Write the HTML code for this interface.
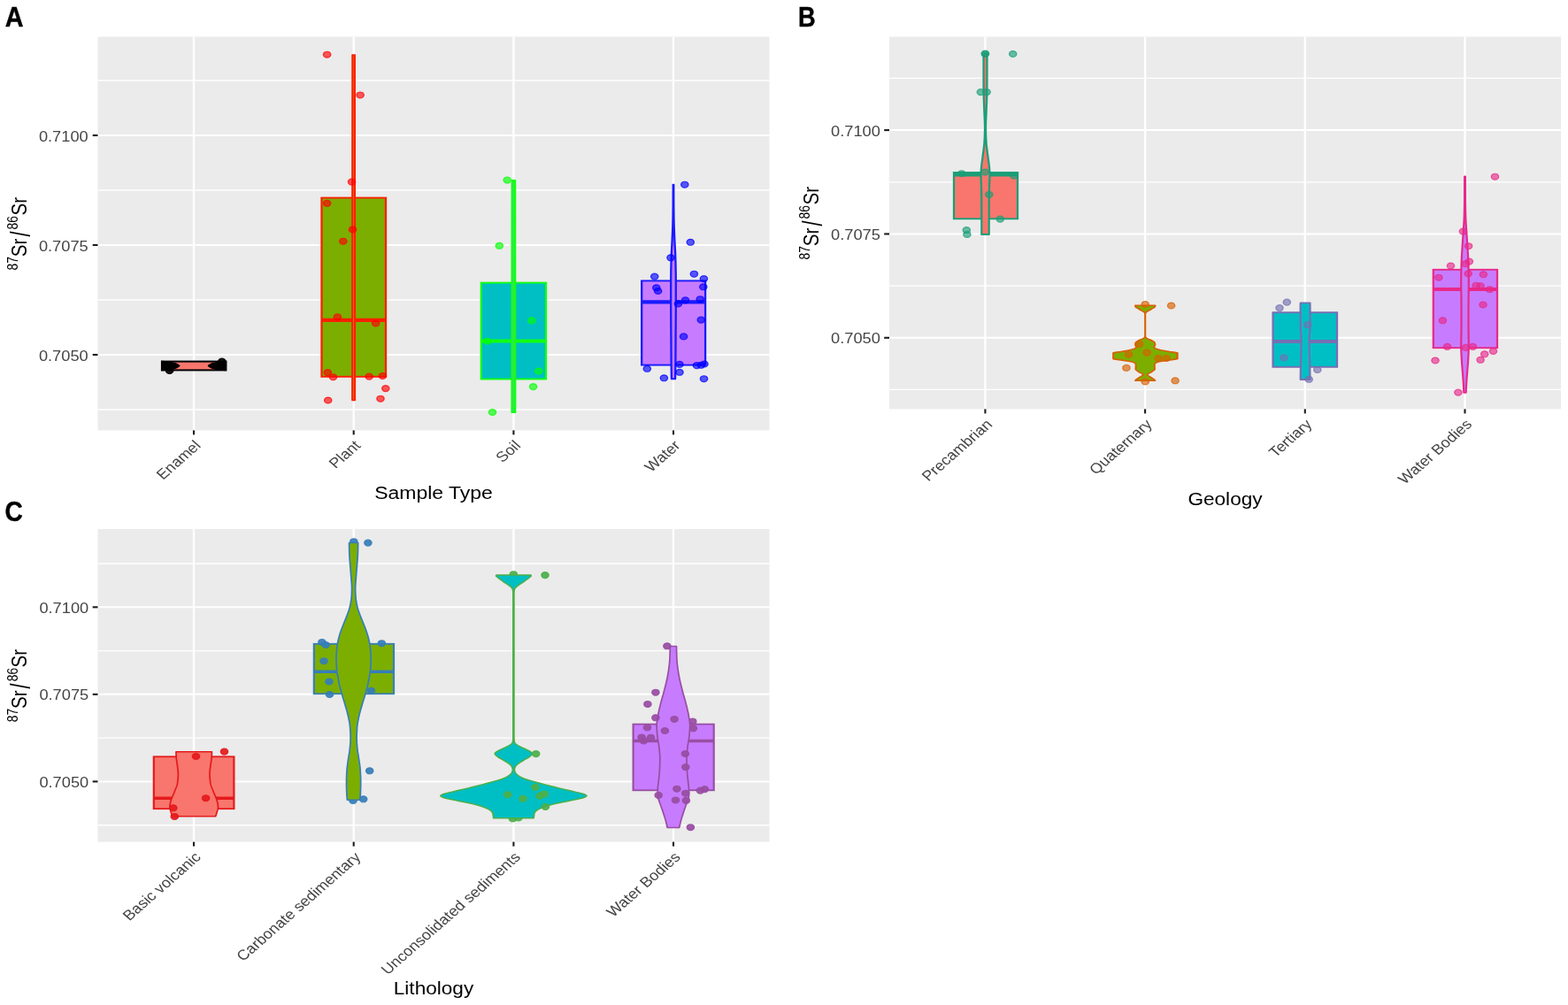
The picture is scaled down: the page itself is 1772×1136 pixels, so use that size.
<!DOCTYPE html>
<html lang="en"><head><meta charset="utf-8"><title>87Sr/86Sr by sample type, geology and lithology</title>
<style>html,body{margin:0;padding:0;background:#fff}body{width:1772px;height:1136px;overflow:hidden}svg{display:block;font-family:'Liberation Sans', sans-serif}</style></head><body>
<svg width="1772" height="1136" viewBox="0 0 1772 1136" role="img" aria-label="Violin and box plots of 87Sr/86Sr by sample type, geology and lithology">
<rect width="1772" height="1136" fill="#fff"/>
<g id="panelA">
<rect x="110.5" y="41.5" width="759" height="444.9" fill="#ebebeb"/>
<g stroke="#fff" stroke-width="1.35">
<line x1="110.5" x2="869.5" y1="91" y2="91"/>
<line x1="110.5" x2="869.5" y1="215" y2="215"/>
<line x1="110.5" x2="869.5" y1="339" y2="339"/>
<line x1="110.5" x2="869.5" y1="463" y2="463"/>
</g>
<g stroke="#fff" stroke-width="2">
<line x1="110.5" x2="869.5" y1="153" y2="153"/>
<line x1="110.5" x2="869.5" y1="277" y2="277"/>
<line x1="110.5" x2="869.5" y1="401" y2="401"/>
</g>
<g stroke="#fff" stroke-width="2.3">
<line x1="219" x2="219" y1="41.5" y2="486.4"/>
<line x1="399.7" x2="399.7" y1="41.5" y2="486.4"/>
<line x1="580.4" x2="580.4" y1="41.5" y2="486.4"/>
<line x1="761" x2="761" y1="41.5" y2="486.4"/>
</g>
<g stroke="#1c1c1c" stroke-width="2.1">
<line x1="104.7" x2="110.5" y1="153" y2="153"/>
<line x1="104.7" x2="110.5" y1="277" y2="277"/>
<line x1="104.7" x2="110.5" y1="401" y2="401"/>
<line x1="219" x2="219" y1="486.4" y2="491.4"/>
<line x1="399.7" x2="399.7" y1="486.4" y2="491.4"/>
<line x1="580.4" x2="580.4" y1="486.4" y2="491.4"/>
<line x1="761" x2="761" y1="486.4" y2="491.4"/>
</g>
<g font-size="15.6" fill="#454545" text-anchor="end">
<text transform="translate(99.7 159.6) scale(1.17 1)">0.7100</text>
<text transform="translate(99.7 283.6) scale(1.17 1)">0.7075</text>
<text transform="translate(99.7 407.6) scale(1.17 1)">0.7050</text>
</g>
<g font-size="16.0" fill="#454545" text-anchor="end">
<text transform="translate(227.9 504.6) scale(1.14 1) rotate(-45)">Enamel</text>
<text transform="translate(408.6 504.6) scale(1.14 1) rotate(-45)">Plant</text>
<text transform="translate(589.3 504.6) scale(1.14 1) rotate(-45)">Soil</text>
<text transform="translate(769.9 504.6) scale(1.14 1) rotate(-45)">Water</text>
</g>
<text font-size="19.4" text-anchor="middle" transform="translate(490 563.6) scale(1.185 1)">Sample Type</text>
<g id="ytitle-A">
<text font-size="13.9" transform="translate(19.6 305.4) scale(1.23 1) rotate(-90)">87</text>
<text font-size="20.6" transform="translate(30.4 290.2) scale(1.18 1) rotate(-90)">Sr</text>
<text font-size="21.5" transform="translate(34.2 267.6) scale(1.5 1) rotate(-90)">/</text>
<text font-size="13.9" transform="translate(19.6 259.5) scale(1.23 1) rotate(-90)">86</text>
<text font-size="20.6" transform="translate(30.4 243.6) scale(1.18 1) rotate(-90)">Sr</text>
</g>
<text font-size="30.6" font-weight="bold" stroke="#000" stroke-width="0.4" transform="translate(5.7 30) scale(0.94 1)">A</text>
<g transform="scale(1.2 1)">
<rect x="152.58" y="408.6" width="60" height="9.8" fill="#f8766d" stroke="#000" stroke-width="2.0"/>
<path d="M151.67 407.8 L155.83 408 C163.44 408.8 168.28 411 169.67 413.5 C168.28 416 163.44 418.2 155.83 419 L151.67 419.2 Z M213.5 407.8 L209.33 408 C201.72 408.8 196.88 411 195.5 413.5 C196.88 416 201.72 418.2 209.33 419 L213.5 419.2 Z" fill="#000"/>
<g fill="#000" fill-opacity="0.92" stroke="#000" stroke-opacity="0.9" stroke-width="1.15"><circle cx="159.67" cy="419" r="3.45"/><circle cx="209" cy="408.6" r="3.45"/></g>
<rect x="302.92" y="223.6" width="60.42" height="202.2" fill="#7cae00" stroke="#fa2000" stroke-width="1.9"/>
<line x1="302.92" x2="363.33" y1="361.8" y2="361.8" stroke="#fa2000" stroke-width="4.2"/>
<path d="M334.08 62 L334.15 192.1 L334.19 322.2 L334.21 452.3 L331.79 452.3 L331.81 322.2 L331.85 192.1 L331.92 62 Z" fill="#e07a1c" stroke="#fa2000" stroke-width="1.75" stroke-linejoin="round"/>
<g fill="#ff0000" fill-opacity="0.64" stroke="#ff0000" stroke-opacity="0.72" stroke-width="1.15"><circle cx="308" cy="61.7" r="3.45"/><circle cx="339.25" cy="107.4" r="3.45"/><circle cx="331.25" cy="205.6" r="3.45"/><circle cx="308" cy="229.8" r="3.45"/><circle cx="332.08" cy="259.5" r="3.45"/><circle cx="323.17" cy="272.7" r="3.45"/><circle cx="317.83" cy="358.4" r="3.45"/><circle cx="353.83" cy="365.5" r="3.45"/><circle cx="308.58" cy="421.1" r="3.45"/><circle cx="313.75" cy="426.2" r="3.45"/><circle cx="347.67" cy="425.6" r="3.45"/><circle cx="360.25" cy="425" r="3.45"/><circle cx="363.17" cy="439.1" r="3.45"/><circle cx="358.33" cy="450.7" r="3.45"/><circle cx="308.92" cy="452.5" r="3.45"/></g>
<rect x="453.17" y="319.6" width="61" height="108.9" fill="#00bfc4" stroke="#12ff12" stroke-width="1.9"/>
<line x1="453.17" x2="514.17" y1="385.5" y2="385.5" stroke="#12ff12" stroke-width="4.2"/>
<path d="M485.12 204 L485.19 291.4 L485.23 378.8 L485.25 466.2 L482.08 466.2 L482.1 378.8 L482.14 291.4 L482.21 204 Z" fill="#3be060" stroke="#12ff12" stroke-width="1.8" stroke-linejoin="round"/>
<g fill="#00ff00" fill-opacity="0.64" stroke="#00ff00" stroke-opacity="0.72" stroke-width="1.15"><circle cx="477.67" cy="203.6" r="3.45"/><circle cx="470.25" cy="277.8" r="3.45"/><circle cx="500.75" cy="362.4" r="3.45"/><circle cx="458.92" cy="385.7" r="3.45"/><circle cx="507.33" cy="419.5" r="3.45"/><circle cx="502.17" cy="437.1" r="3.45"/><circle cx="463.75" cy="466" r="3.45"/></g>
<rect x="604.33" y="317.4" width="59.92" height="95.2" fill="#c77cff" stroke="#1a1aff" stroke-width="1.9"/>
<line x1="604.33" x2="664.25" y1="341.4" y2="341.4" stroke="#1a1aff" stroke-width="4.2"/>
<path d="M634.42 208.8 L634.42 212.52 L634.42 216.24 L634.43 219.96 L634.44 223.67 L634.45 227.39 L634.46 231.11 L634.48 234.83 L634.52 238.55 L634.56 242.27 L634.61 245.99 L634.66 249.71 L634.73 253.42 L634.83 257.14 L634.94 260.86 L635.06 264.58 L635.19 268.3 L635.33 272.02 L635.49 275.74 L635.67 279.45 L635.84 283.17 L635.99 286.89 L636.1 290.61 L636.18 294.33 L636.26 298.05 L636.34 301.77 L636.4 305.48 L636.45 309.2 L636.49 312.92 L636.5 316.64 L636.5 320.36 L636.5 324.08 L636.5 327.8 L636.5 331.52 L636.5 335.23 L636.5 338.95 L636.5 342.67 L636.5 346.39 L636.49 350.11 L636.48 353.83 L636.47 357.55 L636.45 361.26 L636.42 364.98 L636.4 368.7 L636.38 372.42 L636.35 376.14 L636.33 379.86 L636.32 383.58 L636.3 387.29 L636.28 391.01 L636.26 394.73 L636.24 398.45 L636.22 402.17 L636.2 405.89 L636.17 409.61 L636.13 413.33 L636.09 417.04 L636.04 420.76 L635.98 424.48 L635.92 428.2 L632.42 428.2 L632.35 424.48 L632.3 420.76 L632.24 417.04 L632.2 413.33 L632.16 409.61 L632.14 405.89 L632.11 402.17 L632.09 398.45 L632.07 394.73 L632.05 391.01 L632.04 387.29 L632.02 383.58 L632 379.86 L631.98 376.14 L631.96 372.42 L631.93 368.7 L631.91 364.98 L631.89 361.26 L631.87 357.55 L631.85 353.83 L631.84 350.11 L631.83 346.39 L631.83 342.67 L631.83 338.95 L631.83 335.23 L631.83 331.52 L631.83 327.8 L631.83 324.08 L631.83 320.36 L631.83 316.64 L631.85 312.92 L631.88 309.2 L631.93 305.48 L632 301.77 L632.07 298.05 L632.15 294.33 L632.24 290.61 L632.34 286.89 L632.49 283.17 L632.66 279.45 L632.84 275.74 L633.01 272.02 L633.14 268.3 L633.27 264.58 L633.4 260.86 L633.51 257.14 L633.6 253.42 L633.67 249.71 L633.73 245.99 L633.77 242.27 L633.82 238.55 L633.85 234.83 L633.87 231.11 L633.88 227.39 L633.89 223.67 L633.9 219.96 L633.91 216.24 L633.92 212.52 L633.92 208.8 Z" fill="#c77cff" stroke="#1a1aff" stroke-width="1.9" stroke-linejoin="round"/>
<g fill="#0000ff" fill-opacity="0.64" stroke="#0000ff" stroke-opacity="0.72" stroke-width="1.15"><circle cx="644.83" cy="208.7" r="3.45"/><circle cx="650.25" cy="273.8" r="3.45"/><circle cx="631.67" cy="291.3" r="3.45"/><circle cx="653.67" cy="309.7" r="3.45"/><circle cx="616.42" cy="312.6" r="3.45"/><circle cx="662.83" cy="315.1" r="3.45"/><circle cx="662.33" cy="324.3" r="3.45"/><circle cx="618.17" cy="325.3" r="3.45"/><circle cx="619.67" cy="329" r="3.45"/><circle cx="645.42" cy="339.4" r="3.45"/><circle cx="659.42" cy="338.2" r="3.45"/><circle cx="638.67" cy="343.4" r="3.45"/><circle cx="660.25" cy="361.6" r="3.45"/><circle cx="643.83" cy="380.4" r="3.45"/><circle cx="640" cy="411.9" r="3.45"/><circle cx="656.17" cy="413.1" r="3.45"/><circle cx="660.25" cy="412.8" r="3.45"/><circle cx="663.33" cy="411.5" r="3.45"/><circle cx="609.42" cy="416.8" r="3.45"/><circle cx="640" cy="420.8" r="3.45"/><circle cx="625.33" cy="427.3" r="3.45"/><circle cx="662.92" cy="428.2" r="3.45"/></g>
</g>
</g>
<g id="panelB">
<rect x="1005" y="41.5" width="759" height="420.9" fill="#ebebeb"/>
<g stroke="#fff" stroke-width="1.35">
<line x1="1005" x2="1764" y1="88.4" y2="88.4"/>
<line x1="1005" x2="1764" y1="205.8" y2="205.8"/>
<line x1="1005" x2="1764" y1="323.1" y2="323.1"/>
<line x1="1005" x2="1764" y1="440.4" y2="440.4"/>
</g>
<g stroke="#fff" stroke-width="2">
<line x1="1005" x2="1764" y1="147.1" y2="147.1"/>
<line x1="1005" x2="1764" y1="264.45" y2="264.45"/>
<line x1="1005" x2="1764" y1="381.8" y2="381.8"/>
</g>
<g stroke="#fff" stroke-width="2.3">
<line x1="1113.4" x2="1113.4" y1="41.5" y2="462.4"/>
<line x1="1294.1" x2="1294.1" y1="41.5" y2="462.4"/>
<line x1="1474.8" x2="1474.8" y1="41.5" y2="462.4"/>
<line x1="1655.5" x2="1655.5" y1="41.5" y2="462.4"/>
</g>
<g stroke="#1c1c1c" stroke-width="2.1">
<line x1="999.2" x2="1005" y1="147.1" y2="147.1"/>
<line x1="999.2" x2="1005" y1="264.45" y2="264.45"/>
<line x1="999.2" x2="1005" y1="381.8" y2="381.8"/>
<line x1="1113.4" x2="1113.4" y1="462.4" y2="467.4"/>
<line x1="1294.1" x2="1294.1" y1="462.4" y2="467.4"/>
<line x1="1474.8" x2="1474.8" y1="462.4" y2="467.4"/>
<line x1="1655.5" x2="1655.5" y1="462.4" y2="467.4"/>
</g>
<g font-size="15.6" fill="#454545" text-anchor="end">
<text transform="translate(994.9 153.7) scale(1.17 1)">0.7100</text>
<text transform="translate(994.9 271.05) scale(1.17 1)">0.7075</text>
<text transform="translate(994.9 388.4) scale(1.17 1)">0.7050</text>
</g>
<g font-size="16.0" fill="#454545" text-anchor="end">
<text transform="translate(1122.3 480.6) scale(1.14 1) rotate(-45)">Precambrian</text>
<text transform="translate(1303 480.6) scale(1.14 1) rotate(-45)">Quaternary</text>
<text transform="translate(1483.7 480.6) scale(1.14 1) rotate(-45)">Tertiary</text>
<text transform="translate(1664.4 480.6) scale(1.14 1) rotate(-45)">Water Bodies</text>
</g>
<text font-size="19.4" text-anchor="middle" transform="translate(1384.5 571) scale(1.165 1)">Geology</text>
<g id="ytitle-B">
<text font-size="13.9" transform="translate(914.6 293.4) scale(1.23 1) rotate(-90)">87</text>
<text font-size="20.6" transform="translate(925.4 278.2) scale(1.18 1) rotate(-90)">Sr</text>
<text font-size="21.5" transform="translate(929.2 255.6) scale(1.5 1) rotate(-90)">/</text>
<text font-size="13.9" transform="translate(914.6 247.5) scale(1.23 1) rotate(-90)">86</text>
<text font-size="20.6" transform="translate(925.4 231.6) scale(1.18 1) rotate(-90)">Sr</text>
</g>
<text font-size="30.6" font-weight="bold" stroke="#000" stroke-width="0.4" transform="translate(902 30) scale(0.89 1)">B</text>
<g transform="scale(1.2 1)">
<rect x="898.33" y="195" width="60" height="52.3" fill="#f8766d" stroke="#1b9e77" stroke-width="1.9"/>
<line x1="898.33" x2="958.33" y1="197.2" y2="197.2" stroke="#1b9e77" stroke-width="4.6"/>
<path d="M929.58 60.5 L929.58 63.97 L929.58 67.43 L929.58 70.9 L929.58 74.36 L929.58 77.83 L929.58 81.3 L929.58 84.76 L929.57 88.23 L929.56 91.69 L929.55 95.16 L929.53 98.63 L929.51 102.09 L929.49 105.56 L929.42 109.03 L929.33 112.49 L929.22 115.96 L929.1 119.42 L928.98 122.89 L928.88 126.36 L928.75 129.82 L928.62 133.29 L928.49 136.75 L928.39 140.22 L928.34 143.69 L928.35 147.15 L928.41 150.62 L928.51 154.08 L928.65 157.55 L928.8 161.02 L929.05 164.48 L929.4 167.95 L929.78 171.42 L930.15 174.88 L930.53 178.35 L930.95 181.81 L931.34 185.28 L931.66 188.75 L931.89 192.21 L932.06 195.68 L932.07 199.14 L931.98 202.61 L931.86 206.08 L931.73 209.54 L931.62 213.01 L931.56 216.47 L931.52 219.94 L931.48 223.41 L931.45 226.87 L931.43 230.34 L931.42 233.81 L931.42 237.27 L931.42 240.74 L931.42 244.2 L931.42 247.67 L931.42 251.14 L931.42 254.6 L931.42 258.07 L931.42 261.53 L931.42 265 L924.42 265 L924.42 261.53 L924.42 258.07 L924.42 254.6 L924.42 251.14 L924.42 247.67 L924.42 244.2 L924.42 240.74 L924.42 237.27 L924.42 233.81 L924.4 230.34 L924.38 226.87 L924.35 223.41 L924.31 219.94 L924.27 216.47 L924.21 213.01 L924.11 209.54 L923.97 206.08 L923.85 202.61 L923.77 199.14 L923.77 195.68 L923.94 192.21 L924.17 188.75 L924.49 185.28 L924.89 181.81 L925.3 178.35 L925.68 174.88 L926.05 171.42 L926.43 167.95 L926.78 164.48 L927.03 161.02 L927.19 157.55 L927.32 154.08 L927.42 150.62 L927.49 147.15 L927.5 143.69 L927.44 140.22 L927.34 136.75 L927.22 133.29 L927.08 129.82 L926.96 126.36 L926.85 122.89 L926.74 119.42 L926.62 115.96 L926.5 112.49 L926.41 109.03 L926.35 105.56 L926.32 102.09 L926.3 98.63 L926.29 95.16 L926.27 91.69 L926.26 88.23 L926.25 84.76 L926.25 81.3 L926.25 77.83 L926.25 74.36 L926.25 70.9 L926.25 67.43 L926.25 63.97 L926.25 60.5 Z" fill="#f8766d" stroke="#1b9e77" stroke-width="1.85" stroke-linejoin="round"/>
<g fill="#1b9e77" fill-opacity="0.64" stroke="#1b9e77" stroke-opacity="0.72" stroke-width="1.15"><circle cx="927.92" cy="60.6" r="3.45"/><circle cx="927.75" cy="61" r="3.45"/><circle cx="953.92" cy="61" r="3.45"/><circle cx="923.58" cy="104.1" r="3.45"/><circle cx="929.25" cy="104.1" r="3.45"/><circle cx="905.67" cy="196.2" r="3.45"/><circle cx="927.67" cy="194.6" r="3.45"/><circle cx="954.92" cy="198.7" r="3.45"/><circle cx="931.5" cy="219.9" r="3.45"/><circle cx="941.92" cy="247.6" r="3.45"/><circle cx="910.25" cy="260.1" r="3.45"/><circle cx="910.75" cy="265" r="3.45"/></g>
<rect x="1048.67" y="399" width="60.17" height="6.4" fill="#7cae00" stroke="#d95f02" stroke-width="1.6"/>
<line x1="1048.67" x2="1108.83" y1="402" y2="402" stroke="#d95f02" stroke-width="2.6"/>
<path d="M1087.92 345.2 L1087.87 345.73 L1087.75 346.27 L1087.58 346.8 L1087.2 347.34 L1086.52 347.87 L1085.71 348.41 L1084.91 348.94 L1084.16 349.48 L1083.37 350.01 L1082.57 350.55 L1081.8 351.08 L1081.06 351.62 L1080.29 352.15 L1079.59 352.68 L1079.13 353.22 L1078.88 353.75 L1078.69 354.29 L1078.59 354.82 L1078.58 355.36 L1078.58 355.89 L1078.58 356.43 L1078.58 356.96 L1078.58 357.5 L1078.58 358.03 L1078.58 358.56 L1078.58 359.1 L1078.58 359.63 L1078.58 360.17 L1078.58 360.7 L1078.58 361.24 L1078.58 361.77 L1078.58 362.31 L1078.58 362.84 L1078.58 363.38 L1078.58 363.91 L1078.58 364.45 L1078.58 364.98 L1078.58 365.51 L1078.58 366.05 L1078.58 366.58 L1078.58 367.12 L1078.58 367.65 L1078.58 368.19 L1078.58 368.72 L1078.58 369.26 L1078.58 369.79 L1078.58 370.33 L1078.58 370.86 L1078.58 371.39 L1078.58 371.93 L1078.58 372.46 L1078.58 373 L1078.58 373.53 L1078.58 374.07 L1078.58 374.6 L1078.58 375.14 L1078.58 375.67 L1078.58 376.21 L1078.58 376.74 L1078.58 377.28 L1078.58 377.81 L1078.58 378.34 L1078.58 378.88 L1078.58 379.41 L1078.58 379.95 L1078.58 380.48 L1078.76 381.02 L1079.22 381.55 L1079.83 382.09 L1080.49 382.62 L1081.38 383.16 L1082.44 383.69 L1083.47 384.23 L1084.3 384.76 L1085.12 385.29 L1085.93 385.83 L1086.63 386.36 L1087.18 386.9 L1087.48 387.43 L1087.6 387.97 L1087.7 388.5 L1087.78 389.04 L1087.82 389.57 L1087.83 390.11 L1087.59 390.64 L1087.2 391.17 L1086.89 391.71 L1086.87 392.24 L1087.16 392.78 L1087.64 393.31 L1088.31 393.85 L1089.44 394.38 L1090.9 394.92 L1092.52 395.45 L1094.35 395.99 L1096.55 396.52 L1098.95 397.06 L1101.44 397.59 L1104.79 398.12 L1107.79 398.66 L1108.5 399.19 L1108.5 399.73 L1108.5 400.26 L1108.5 400.8 L1108.5 401.33 L1108.5 401.87 L1108.5 402.4 L1108.5 402.94 L1108.5 403.47 L1108.5 404.01 L1108.5 404.54 L1108.5 405.07 L1108.29 405.61 L1106.26 406.14 L1103.1 406.68 L1100.11 407.21 L1097.29 407.75 L1094.3 408.28 L1091.69 408.82 L1090.06 409.35 L1089.03 409.89 L1088.16 410.42 L1087.56 410.95 L1087.33 411.49 L1087.33 412.02 L1087.33 412.56 L1087.33 413.09 L1087.33 413.63 L1087.33 414.16 L1087.36 414.7 L1087.39 415.23 L1087.44 415.77 L1087.48 416.3 L1087.5 416.84 L1087.44 417.37 L1087.16 417.9 L1086.71 418.44 L1086.13 418.97 L1085.49 419.51 L1084.85 420.04 L1084.25 420.58 L1083.51 421.11 L1082.62 421.65 L1081.73 422.18 L1080.99 422.72 L1080.55 423.25 L1080.56 423.78 L1080.94 424.32 L1081.56 424.85 L1082.29 425.39 L1082.99 425.92 L1083.66 426.46 L1084.41 426.99 L1085.18 427.53 L1085.91 428.06 L1086.52 428.6 L1087.04 429.13 L1087.51 429.67 L1087.92 430.2 L1069.08 430.2 L1069.49 429.67 L1069.96 429.13 L1070.48 428.6 L1071.09 428.06 L1071.82 427.53 L1072.59 426.99 L1073.34 426.46 L1074.01 425.92 L1074.71 425.39 L1075.44 424.85 L1076.06 424.32 L1076.44 423.78 L1076.45 423.25 L1076.01 422.72 L1075.27 422.18 L1074.38 421.65 L1073.49 421.11 L1072.75 420.58 L1072.15 420.04 L1071.51 419.51 L1070.87 418.97 L1070.29 418.44 L1069.84 417.9 L1069.56 417.37 L1069.5 416.84 L1069.52 416.3 L1069.56 415.77 L1069.61 415.23 L1069.64 414.7 L1069.67 414.16 L1069.67 413.63 L1069.67 413.09 L1069.67 412.56 L1069.67 412.02 L1069.67 411.49 L1069.44 410.95 L1068.84 410.42 L1067.97 409.89 L1066.94 409.35 L1065.31 408.82 L1062.7 408.28 L1059.71 407.75 L1056.89 407.21 L1053.9 406.68 L1050.74 406.14 L1048.71 405.61 L1048.5 405.07 L1048.5 404.54 L1048.5 404.01 L1048.5 403.47 L1048.5 402.94 L1048.5 402.4 L1048.5 401.87 L1048.5 401.33 L1048.5 400.8 L1048.5 400.26 L1048.5 399.73 L1048.5 399.19 L1049.21 398.66 L1052.21 398.12 L1055.56 397.59 L1058.05 397.06 L1060.45 396.52 L1062.65 395.99 L1064.48 395.45 L1066.1 394.92 L1067.56 394.38 L1068.69 393.85 L1069.36 393.31 L1069.84 392.78 L1070.13 392.24 L1070.11 391.71 L1069.8 391.17 L1069.41 390.64 L1069.17 390.11 L1069.18 389.57 L1069.22 389.04 L1069.3 388.5 L1069.4 387.97 L1069.52 387.43 L1069.82 386.9 L1070.37 386.36 L1071.07 385.83 L1071.88 385.29 L1072.7 384.76 L1073.53 384.23 L1074.56 383.69 L1075.62 383.16 L1076.51 382.62 L1077.17 382.09 L1077.78 381.55 L1078.24 381.02 L1078.42 380.48 L1078.42 379.95 L1078.42 379.41 L1078.42 378.88 L1078.42 378.34 L1078.42 377.81 L1078.42 377.28 L1078.42 376.74 L1078.42 376.21 L1078.42 375.67 L1078.42 375.14 L1078.42 374.6 L1078.42 374.07 L1078.42 373.53 L1078.42 373 L1078.42 372.46 L1078.42 371.93 L1078.42 371.39 L1078.42 370.86 L1078.42 370.33 L1078.42 369.79 L1078.42 369.26 L1078.42 368.72 L1078.42 368.19 L1078.42 367.65 L1078.42 367.12 L1078.42 366.58 L1078.42 366.05 L1078.42 365.51 L1078.42 364.98 L1078.42 364.45 L1078.42 363.91 L1078.42 363.38 L1078.42 362.84 L1078.42 362.31 L1078.42 361.77 L1078.42 361.24 L1078.42 360.7 L1078.42 360.17 L1078.42 359.63 L1078.42 359.1 L1078.42 358.56 L1078.42 358.03 L1078.42 357.5 L1078.42 356.96 L1078.42 356.43 L1078.42 355.89 L1078.42 355.36 L1078.41 354.82 L1078.31 354.29 L1078.12 353.75 L1077.87 353.22 L1077.41 352.68 L1076.71 352.15 L1075.94 351.62 L1075.2 351.08 L1074.43 350.55 L1073.63 350.01 L1072.84 349.48 L1072.09 348.94 L1071.29 348.41 L1070.48 347.87 L1069.8 347.34 L1069.42 346.8 L1069.25 346.27 L1069.13 345.73 L1069.08 345.2 Z" fill="#7cae00" stroke="#d95f02" stroke-width="1.6" stroke-linejoin="round"/>
<g fill="#d95f02" fill-opacity="0.64" stroke="#d95f02" stroke-opacity="0.72" stroke-width="1.15"><circle cx="1103" cy="345.5" r="3.45"/><circle cx="1078.5" cy="344" r="3.45"/><circle cx="1072.92" cy="389" r="3.45"/><circle cx="1080.08" cy="398.6" r="3.45"/><circle cx="1062.92" cy="400.7" r="3.45"/><circle cx="1090.83" cy="405" r="3.45"/><circle cx="1098.58" cy="405" r="3.45"/><circle cx="1060.75" cy="415.9" r="3.45"/><circle cx="1106.75" cy="430.3" r="3.45"/><circle cx="1078.5" cy="431.5" r="3.45"/></g>
<rect x="1198.83" y="353.2" width="60.33" height="61.6" fill="#00bfc4" stroke="#7570b3" stroke-width="1.9"/>
<line x1="1198.83" x2="1259.17" y1="385.9" y2="385.9" stroke="#7570b3" stroke-width="4"/>
<path d="M1233.75 342.3 L1233.77 343.77 L1233.79 345.24 L1233.8 346.71 L1233.81 348.18 L1233.82 349.65 L1233.83 351.12 L1233.83 352.59 L1233.83 354.06 L1233.83 355.53 L1233.83 356.99 L1233.82 358.46 L1233.81 359.93 L1233.8 361.4 L1233.78 362.87 L1233.76 364.34 L1233.74 365.81 L1233.71 367.28 L1233.69 368.75 L1233.66 370.22 L1233.62 371.69 L1233.56 373.16 L1233.49 374.63 L1233.41 376.1 L1233.32 377.57 L1233.24 379.04 L1233.16 380.51 L1233.09 381.98 L1233.04 383.45 L1233.01 384.92 L1233 386.38 L1233.01 387.85 L1233.02 389.32 L1233.05 390.79 L1233.07 392.26 L1233.11 393.73 L1233.14 395.2 L1233.18 396.67 L1233.21 398.14 L1233.24 399.61 L1233.27 401.08 L1233.3 402.55 L1233.34 404.02 L1233.38 405.49 L1233.41 406.96 L1233.45 408.43 L1233.48 409.9 L1233.52 411.37 L1233.55 412.84 L1233.57 414.31 L1233.6 415.77 L1233.62 417.24 L1233.64 418.71 L1233.66 420.18 L1233.68 421.65 L1233.69 423.12 L1233.71 424.59 L1233.73 426.06 L1233.74 427.53 L1233.75 429 L1224.75 429 L1224.76 427.53 L1224.77 426.06 L1224.79 424.59 L1224.81 423.12 L1224.82 421.65 L1224.84 420.18 L1224.86 418.71 L1224.88 417.24 L1224.9 415.77 L1224.93 414.31 L1224.95 412.84 L1224.98 411.37 L1225.02 409.9 L1225.05 408.43 L1225.09 406.96 L1225.12 405.49 L1225.16 404.02 L1225.2 402.55 L1225.23 401.08 L1225.26 399.61 L1225.29 398.14 L1225.32 396.67 L1225.36 395.2 L1225.39 393.73 L1225.43 392.26 L1225.45 390.79 L1225.48 389.32 L1225.49 387.85 L1225.5 386.38 L1225.49 384.92 L1225.46 383.45 L1225.41 381.98 L1225.34 380.51 L1225.26 379.04 L1225.18 377.57 L1225.09 376.1 L1225.01 374.63 L1224.94 373.16 L1224.88 371.69 L1224.84 370.22 L1224.81 368.75 L1224.79 367.28 L1224.76 365.81 L1224.74 364.34 L1224.72 362.87 L1224.7 361.4 L1224.69 359.93 L1224.68 358.46 L1224.67 356.99 L1224.67 355.53 L1224.67 354.06 L1224.67 352.59 L1224.67 351.12 L1224.68 349.65 L1224.69 348.18 L1224.7 346.71 L1224.71 345.24 L1224.73 343.77 L1224.75 342.3 Z" fill="#00bfc4" stroke="#7570b3" stroke-width="1.8" stroke-linejoin="round"/>
<g fill="#7570b3" fill-opacity="0.64" stroke="#7570b3" stroke-opacity="0.72" stroke-width="1.15"><circle cx="1211.92" cy="341.6" r="3.45"/><circle cx="1205" cy="348.1" r="3.45"/><circle cx="1231.42" cy="367.1" r="3.45"/><circle cx="1209" cy="404.4" r="3.45"/><circle cx="1240.67" cy="418" r="3.45"/><circle cx="1232.67" cy="428.8" r="3.45"/></g>
<rect x="1349.83" y="304.8" width="60.17" height="88.4" fill="#c77cff" stroke="#e7298a" stroke-width="1.9"/>
<line x1="1349.83" x2="1410" y1="327" y2="327" stroke="#e7298a" stroke-width="4"/>
<path d="M1379.92 199.3 L1379.92 203.44 L1379.92 207.59 L1379.93 211.73 L1379.93 215.88 L1379.94 220.02 L1379.96 224.16 L1379.98 228.31 L1380.02 232.45 L1380.08 236.6 L1380.16 240.74 L1380.25 244.88 L1380.38 249.03 L1380.59 253.17 L1380.82 257.32 L1381.05 261.46 L1381.28 265.61 L1381.52 269.75 L1381.76 273.89 L1381.99 278.04 L1382.19 282.18 L1382.4 286.33 L1382.59 290.47 L1382.76 294.61 L1382.89 298.76 L1382.97 302.9 L1383.04 307.05 L1383.11 311.19 L1383.15 315.33 L1383.17 319.48 L1383.15 323.62 L1383.11 327.77 L1383.05 331.91 L1382.99 336.05 L1382.94 340.2 L1382.92 344.34 L1382.92 348.49 L1382.92 352.63 L1382.92 356.77 L1382.92 360.92 L1382.92 365.06 L1382.92 369.21 L1382.93 373.35 L1382.98 377.49 L1383.05 381.64 L1383.12 385.78 L1383.16 389.93 L1383.15 394.07 L1383.04 398.22 L1382.86 402.36 L1382.68 406.5 L1382.45 410.65 L1382.17 414.79 L1381.9 418.94 L1381.64 423.08 L1381.36 427.22 L1381.11 431.37 L1380.89 435.51 L1380.72 439.66 L1380.58 443.8 L1378.58 443.8 L1378.44 439.66 L1378.27 435.51 L1378.06 431.37 L1377.8 427.22 L1377.53 423.08 L1377.27 418.94 L1376.99 414.79 L1376.72 410.65 L1376.48 406.5 L1376.3 402.36 L1376.13 398.22 L1376.02 394.07 L1376.01 389.93 L1376.05 385.78 L1376.11 381.64 L1376.18 377.49 L1376.23 373.35 L1376.25 369.21 L1376.25 365.06 L1376.25 360.92 L1376.25 356.77 L1376.25 352.63 L1376.25 348.49 L1376.25 344.34 L1376.23 340.2 L1376.18 336.05 L1376.12 331.91 L1376.06 327.77 L1376.01 323.62 L1376 319.48 L1376.02 315.33 L1376.06 311.19 L1376.12 307.05 L1376.19 302.9 L1376.28 298.76 L1376.4 294.61 L1376.57 290.47 L1376.77 286.33 L1376.98 282.18 L1377.18 278.04 L1377.41 273.89 L1377.65 269.75 L1377.89 265.61 L1378.11 261.46 L1378.34 257.32 L1378.58 253.17 L1378.78 249.03 L1378.92 244.88 L1379.01 240.74 L1379.09 236.6 L1379.15 232.45 L1379.19 228.31 L1379.21 224.16 L1379.22 220.02 L1379.23 215.88 L1379.24 211.73 L1379.25 207.59 L1379.25 203.44 L1379.25 199.3 Z" fill="#c77cff" stroke="#e7298a" stroke-width="1.8" stroke-linejoin="round"/>
<g fill="#e7298a" fill-opacity="0.64" stroke="#e7298a" stroke-opacity="0.72" stroke-width="1.15"><circle cx="1407.92" cy="199.7" r="3.45"/><circle cx="1377.83" cy="261.6" r="3.45"/><circle cx="1383" cy="278.2" r="3.45"/><circle cx="1383.67" cy="295.6" r="3.45"/><circle cx="1380.33" cy="298.3" r="3.45"/><circle cx="1366.25" cy="300.5" r="3.45"/><circle cx="1382.67" cy="309.3" r="3.45"/><circle cx="1397" cy="310.3" r="3.45"/><circle cx="1354.92" cy="313.7" r="3.45"/><circle cx="1390.17" cy="322.7" r="3.45"/><circle cx="1394.25" cy="323.3" r="3.45"/><circle cx="1403" cy="327.2" r="3.45"/><circle cx="1396.67" cy="344.5" r="3.45"/><circle cx="1358.67" cy="362.3" r="3.45"/><circle cx="1362.92" cy="391.9" r="3.45"/><circle cx="1380.42" cy="392.9" r="3.45"/><circle cx="1387.08" cy="391.9" r="3.45"/><circle cx="1406.25" cy="397" r="3.45"/><circle cx="1398.08" cy="400.3" r="3.45"/><circle cx="1394.25" cy="406.8" r="3.45"/><circle cx="1351.67" cy="407.5" r="3.45"/><circle cx="1373.25" cy="443.6" r="3.45"/></g>
</g>
</g>
<g id="panelC">
<rect x="110.5" y="598" width="759" height="353.6" fill="#ebebeb"/>
<g stroke="#fff" stroke-width="1.35">
<line x1="110.5" x2="869.5" y1="637" y2="637"/>
<line x1="110.5" x2="869.5" y1="735.6" y2="735.6"/>
<line x1="110.5" x2="869.5" y1="834.1" y2="834.1"/>
<line x1="110.5" x2="869.5" y1="932.7" y2="932.7"/>
</g>
<g stroke="#fff" stroke-width="2">
<line x1="110.5" x2="869.5" y1="686.3" y2="686.3"/>
<line x1="110.5" x2="869.5" y1="784.85" y2="784.85"/>
<line x1="110.5" x2="869.5" y1="883.4" y2="883.4"/>
</g>
<g stroke="#fff" stroke-width="2.3">
<line x1="219" x2="219" y1="598" y2="951.6"/>
<line x1="399.7" x2="399.7" y1="598" y2="951.6"/>
<line x1="580.4" x2="580.4" y1="598" y2="951.6"/>
<line x1="761" x2="761" y1="598" y2="951.6"/>
</g>
<g stroke="#1c1c1c" stroke-width="2.1">
<line x1="104.7" x2="110.5" y1="686.3" y2="686.3"/>
<line x1="104.7" x2="110.5" y1="784.85" y2="784.85"/>
<line x1="104.7" x2="110.5" y1="883.4" y2="883.4"/>
<line x1="219" x2="219" y1="951.6" y2="956.6"/>
<line x1="399.7" x2="399.7" y1="951.6" y2="956.6"/>
<line x1="580.4" x2="580.4" y1="951.6" y2="956.6"/>
<line x1="761" x2="761" y1="951.6" y2="956.6"/>
</g>
<g font-size="15.6" fill="#454545" text-anchor="end">
<text transform="translate(100.2 692.9) scale(1.17 1)">0.7100</text>
<text transform="translate(100.2 791.45) scale(1.17 1)">0.7075</text>
<text transform="translate(100.2 890) scale(1.17 1)">0.7050</text>
</g>
<g font-size="16.0" fill="#454545" text-anchor="end">
<text transform="translate(227.9 969.8) scale(1.14 1) rotate(-45)">Basic volcanic</text>
<text transform="translate(408.6 969.8) scale(1.14 1) rotate(-45)">Carbonate sedimentary</text>
<text transform="translate(589.3 969.8) scale(1.14 1) rotate(-45)">Unconsolidated sediments</text>
<text transform="translate(769.9 969.8) scale(1.14 1) rotate(-45)">Water Bodies</text>
</g>
<text font-size="19.4" text-anchor="middle" transform="translate(490 1123.7) scale(1.165 1)">Lithology</text>
<g id="ytitle-C">
<text font-size="13.9" transform="translate(19.6 816.25) scale(1.23 1) rotate(-90)">87</text>
<text font-size="20.6" transform="translate(30.4 801.05) scale(1.18 1) rotate(-90)">Sr</text>
<text font-size="21.5" transform="translate(34.2 778.45) scale(1.5 1) rotate(-90)">/</text>
<text font-size="13.9" transform="translate(19.6 770.35) scale(1.23 1) rotate(-90)">86</text>
<text font-size="20.6" transform="translate(30.4 754.45) scale(1.18 1) rotate(-90)">Sr</text>
</g>
<text font-size="30.6" font-weight="bold" stroke="#000" stroke-width="0.4" transform="translate(5.4 588.9) scale(0.92 1)">C</text>
<g transform="scale(1.2 1)">
<rect x="144.83" y="855.3" width="75.5" height="58.9" fill="#f8766d" stroke="#e41a1c" stroke-width="1.8"/>
<line x1="144.83" x2="220.33" y1="902.3" y2="902.3" stroke="#e41a1c" stroke-width="3.5"/>
<path d="M199.5 849.8 L199.49 851.04 L199.47 852.27 L199.43 853.51 L199.38 854.75 L199.33 855.99 L199.26 857.22 L199.14 858.46 L199 859.7 L198.84 860.94 L198.67 862.17 L198.51 863.41 L198.37 864.65 L198.24 865.88 L198.11 867.12 L197.97 868.36 L197.84 869.6 L197.72 870.83 L197.61 872.07 L197.54 873.31 L197.5 874.55 L197.51 875.78 L197.54 877.02 L197.59 878.26 L197.66 879.49 L197.75 880.73 L197.86 881.97 L197.98 883.21 L198.11 884.44 L198.25 885.68 L198.48 886.92 L198.79 888.16 L199.14 889.39 L199.54 890.63 L199.96 891.87 L200.38 893.11 L200.79 894.34 L201.18 895.58 L201.61 896.82 L202.06 898.05 L202.53 899.29 L202.99 900.53 L203.42 901.77 L203.82 903 L204.16 904.24 L204.43 905.48 L204.7 906.72 L204.95 907.95 L205.17 909.19 L205.33 910.43 L205.41 911.66 L205.38 912.9 L205.21 914.14 L204.96 915.38 L204.66 916.61 L204.37 917.85 L204.08 919.09 L203.75 920.33 L203.39 921.56 L203 922.8 L162.33 922.8 L161.95 921.56 L161.59 920.33 L161.26 919.09 L160.97 917.85 L160.67 916.61 L160.38 915.38 L160.12 914.14 L159.96 912.9 L159.92 911.66 L160 910.43 L160.16 909.19 L160.38 907.95 L160.63 906.72 L160.9 905.48 L161.17 904.24 L161.51 903 L161.91 901.77 L162.35 900.53 L162.81 899.29 L163.27 898.05 L163.73 896.82 L164.15 895.58 L164.54 894.34 L164.95 893.11 L165.37 891.87 L165.79 890.63 L166.19 889.39 L166.55 888.16 L166.85 886.92 L167.08 885.68 L167.23 884.44 L167.35 883.21 L167.47 881.97 L167.58 880.73 L167.67 879.49 L167.74 878.26 L167.8 877.02 L167.83 875.78 L167.83 874.55 L167.79 873.31 L167.72 872.07 L167.62 870.83 L167.49 869.6 L167.36 868.36 L167.22 867.12 L167.09 865.88 L166.96 864.65 L166.82 863.41 L166.66 862.17 L166.5 860.94 L166.34 859.7 L166.19 858.46 L166.07 857.22 L166 855.99 L165.95 854.75 L165.9 853.51 L165.87 852.27 L165.84 851.04 L165.83 849.8 Z" fill="#f8766d" stroke="#e41a1c" stroke-width="1.45" stroke-linejoin="round"/>
<g fill="#e41a1c" fill-opacity="0.92" stroke="#e41a1c" stroke-opacity="0.9" stroke-width="1.15"><circle cx="184.58" cy="854.9" r="3.45"/><circle cx="211.25" cy="849.6" r="3.45"/><circle cx="193.83" cy="902.2" r="3.45"/><circle cx="163.17" cy="913.3" r="3.45"/><circle cx="164.42" cy="922.9" r="3.45"/></g>
<rect x="295.67" y="727.8" width="75.17" height="56.5" fill="#7cae00" stroke="#377eb8" stroke-width="1.8"/>
<line x1="295.67" x2="370.83" y1="759.2" y2="759.2" stroke="#377eb8" stroke-width="3.5"/>
<g fill="#377eb8" fill-opacity="0.93" stroke="#377eb8" stroke-opacity="0.9" stroke-width="1.15"><circle cx="349.5" cy="780.7" r="3.45"/><circle cx="332.5" cy="904.9" r="3.45"/><circle cx="333.17" cy="612.2" r="3.45"/></g>
<path d="M337.17 613.5 L337.16 615.94 L337.13 618.39 L337.09 620.83 L337.04 623.27 L336.98 625.72 L336.89 628.16 L336.77 630.61 L336.62 633.05 L336.46 635.49 L336.3 637.94 L336.14 640.38 L335.99 642.82 L335.82 645.27 L335.64 647.71 L335.47 650.16 L335.31 652.6 L335.16 655.04 L335.01 657.49 L334.85 659.93 L334.72 662.37 L334.67 664.82 L334.69 667.26 L334.76 669.71 L334.86 672.15 L334.98 674.59 L335.15 677.04 L335.44 679.48 L335.81 681.92 L336.22 684.37 L336.7 686.81 L337.31 689.25 L338.01 691.7 L338.74 694.14 L339.49 696.59 L340.3 699.03 L341.14 701.47 L341.99 703.92 L342.8 706.36 L343.57 708.8 L344.35 711.25 L345.1 713.69 L345.8 716.14 L346.41 718.58 L346.94 721.02 L347.44 723.47 L347.89 725.91 L348.28 728.35 L348.56 730.8 L348.79 733.24 L349 735.68 L349.17 738.13 L349.29 740.57 L349.33 743.02 L349.32 745.46 L349.27 747.9 L349.19 750.35 L349.1 752.79 L348.99 755.23 L348.8 757.68 L348.52 760.12 L348.18 762.57 L347.83 765.01 L347.48 767.45 L347.09 769.9 L346.66 772.34 L346.21 774.78 L345.71 777.23 L345.17 779.67 L344.6 782.12 L344.01 784.56 L343.43 787 L342.82 789.45 L342.19 791.89 L341.57 794.33 L340.96 796.78 L340.38 799.22 L339.79 801.66 L339.21 804.11 L338.67 806.55 L338.18 809 L337.75 811.44 L337.33 813.88 L336.94 816.33 L336.62 818.77 L336.38 821.21 L336.24 823.66 L336.12 826.1 L336.02 828.55 L335.95 830.99 L335.92 833.43 L335.94 835.88 L336.02 838.32 L336.15 840.76 L336.3 843.21 L336.48 845.65 L336.69 848.09 L336.98 850.54 L337.33 852.98 L337.67 855.43 L337.99 857.87 L338.27 860.31 L338.57 862.76 L338.85 865.2 L339.09 867.64 L339.28 870.09 L339.41 872.53 L339.52 874.98 L339.62 877.42 L339.69 879.86 L339.74 882.31 L339.75 884.75 L339.73 887.19 L339.68 889.64 L339.62 892.08 L339.55 894.53 L339.46 896.97 L339.34 899.41 L339.18 901.86 L339 904.3 L327 904.3 L326.82 901.86 L326.66 899.41 L326.54 896.97 L326.45 894.53 L326.38 892.08 L326.32 889.64 L326.27 887.19 L326.25 884.75 L326.26 882.31 L326.31 879.86 L326.38 877.42 L326.48 874.98 L326.59 872.53 L326.72 870.09 L326.91 867.64 L327.15 865.2 L327.43 862.76 L327.73 860.31 L328.01 857.87 L328.33 855.43 L328.67 852.98 L329.02 850.54 L329.31 848.09 L329.52 845.65 L329.7 843.21 L329.85 840.76 L329.98 838.32 L330.06 835.88 L330.08 833.43 L330.05 830.99 L329.98 828.55 L329.88 826.1 L329.76 823.66 L329.62 821.21 L329.38 818.77 L329.06 816.33 L328.67 813.88 L328.25 811.44 L327.82 809 L327.33 806.55 L326.79 804.11 L326.21 801.66 L325.62 799.22 L325.04 796.78 L324.43 794.33 L323.81 791.89 L323.18 789.45 L322.57 787 L321.99 784.56 L321.4 782.12 L320.83 779.67 L320.29 777.23 L319.79 774.78 L319.34 772.34 L318.91 769.9 L318.52 767.45 L318.17 765.01 L317.82 762.57 L317.48 760.12 L317.2 757.68 L317.01 755.23 L316.9 752.79 L316.81 750.35 L316.73 747.9 L316.68 745.46 L316.67 743.02 L316.71 740.57 L316.83 738.13 L317 735.68 L317.21 733.24 L317.44 730.8 L317.72 728.35 L318.11 725.91 L318.56 723.47 L319.06 721.02 L319.59 718.58 L320.2 716.14 L320.9 713.69 L321.65 711.25 L322.43 708.8 L323.2 706.36 L324.01 703.92 L324.86 701.47 L325.7 699.03 L326.51 696.59 L327.26 694.14 L327.99 691.7 L328.69 689.25 L329.3 686.81 L329.78 684.37 L330.19 681.92 L330.56 679.48 L330.85 677.04 L331.02 674.59 L331.14 672.15 L331.24 669.71 L331.31 667.26 L331.33 664.82 L331.28 662.37 L331.15 659.93 L330.99 657.49 L330.84 655.04 L330.69 652.6 L330.53 650.16 L330.36 647.71 L330.18 645.27 L330.01 642.82 L329.86 640.38 L329.7 637.94 L329.54 635.49 L329.38 633.05 L329.23 630.61 L329.11 628.16 L329.02 625.72 L328.96 623.27 L328.91 620.83 L328.87 618.39 L328.84 615.94 L328.83 613.5 Z" fill="#7cae00" stroke="#377eb8" stroke-width="1.45" stroke-linejoin="round"/>
<g fill="#377eb8" fill-opacity="0.93" stroke="#377eb8" stroke-opacity="0.9" stroke-width="1.15"><circle cx="346.58" cy="613.6" r="3.45"/><circle cx="303.25" cy="725.9" r="3.45"/><circle cx="306.83" cy="729" r="3.45"/><circle cx="359.42" cy="727.2" r="3.45"/><circle cx="305" cy="747.2" r="3.45"/><circle cx="309.92" cy="770.5" r="3.45"/><circle cx="310.42" cy="785" r="3.45"/><circle cx="348.08" cy="871.3" r="3.45"/><circle cx="342.25" cy="903.3" r="3.45"/></g>
<g fill="#4daf4a" fill-opacity="0.93" stroke="#4daf4a" stroke-opacity="0.9" stroke-width="1.15"><circle cx="483.58" cy="649.2" r="3.45"/><circle cx="482.92" cy="925.4" r="3.45"/><circle cx="488.25" cy="924.4" r="3.45"/></g>
<path d="M499.92 649.9 L500.18 650.96 L499.31 652.02 L498.23 653.08 L497.01 654.15 L495.84 655.21 L494.7 656.27 L493.51 657.33 L492.24 658.39 L490.88 659.45 L489.52 660.51 L488.2 661.58 L486.91 662.64 L485.91 663.7 L485.11 664.76 L484.64 665.82 L484.35 666.88 L484.2 667.94 L484.12 669.01 L484.08 670.07 L484.08 671.13 L484.08 672.19 L484.08 673.25 L484.08 674.31 L484.08 675.37 L484.08 676.43 L484.08 677.5 L484.08 678.56 L484.08 679.62 L484.08 680.68 L484.08 681.74 L484.08 682.8 L484.08 683.86 L484.08 684.93 L484.08 685.99 L484.08 687.05 L484.08 688.11 L484.08 689.17 L484.08 690.23 L484.08 691.29 L484.08 692.36 L484.08 693.42 L484.08 694.48 L484.08 695.54 L484.08 696.6 L484.08 697.66 L484.08 698.72 L484.08 699.79 L484.08 700.85 L484.08 701.91 L484.08 702.97 L484.08 704.03 L484.08 705.09 L484.08 706.15 L484.08 707.22 L484.08 708.28 L484.08 709.34 L484.08 710.4 L484.08 711.46 L484.08 712.52 L484.08 713.58 L484.08 714.64 L484.08 715.71 L484.08 716.77 L484.08 717.83 L484.08 718.89 L484.08 719.95 L484.08 721.01 L484.08 722.07 L484.08 723.14 L484.08 724.2 L484.08 725.26 L484.08 726.32 L484.08 727.38 L484.08 728.44 L484.08 729.5 L484.08 730.57 L484.08 731.63 L484.08 732.69 L484.08 733.75 L484.08 734.81 L484.08 735.87 L484.08 736.93 L484.08 738 L484.08 739.06 L484.08 740.12 L484.08 741.18 L484.08 742.24 L484.08 743.3 L484.08 744.36 L484.08 745.43 L484.08 746.49 L484.08 747.55 L484.08 748.61 L484.08 749.67 L484.08 750.73 L484.08 751.79 L484.08 752.85 L484.08 753.92 L484.08 754.98 L484.08 756.04 L484.08 757.1 L484.08 758.16 L484.08 759.22 L484.08 760.28 L484.08 761.35 L484.08 762.41 L484.08 763.47 L484.08 764.53 L484.08 765.59 L484.08 766.65 L484.08 767.71 L484.08 768.78 L484.08 769.84 L484.08 770.9 L484.08 771.96 L484.08 773.02 L484.08 774.08 L484.08 775.14 L484.08 776.21 L484.08 777.27 L484.08 778.33 L484.08 779.39 L484.08 780.45 L484.08 781.51 L484.08 782.57 L484.08 783.64 L484.08 784.7 L484.08 785.76 L484.08 786.82 L484.08 787.88 L484.08 788.94 L484.08 790 L484.08 791.06 L484.08 792.13 L484.08 793.19 L484.08 794.25 L484.08 795.31 L484.08 796.37 L484.08 797.43 L484.08 798.49 L484.08 799.56 L484.08 800.62 L484.08 801.68 L484.08 802.74 L484.08 803.8 L484.08 804.86 L484.08 805.92 L484.08 806.99 L484.08 808.05 L484.08 809.11 L484.08 810.17 L484.08 811.23 L484.08 812.29 L484.08 813.35 L484.08 814.42 L484.08 815.48 L484.08 816.54 L484.08 817.6 L484.08 818.66 L484.08 819.72 L484.08 820.78 L484.08 821.85 L484.08 822.91 L484.08 823.97 L484.08 825.03 L484.08 826.09 L484.08 827.15 L484.08 828.21 L484.08 829.27 L484.08 830.34 L484.08 831.4 L484.08 832.46 L484.08 833.52 L484.08 834.58 L484.08 835.64 L484.11 836.7 L484.25 837.77 L484.48 838.83 L484.84 839.89 L485.78 840.95 L487.01 842.01 L488.44 843.07 L490.14 844.13 L491.91 845.2 L493.89 846.26 L495.92 847.32 L497.67 848.38 L499.16 849.44 L500.55 850.5 L501.3 851.56 L501.11 852.63 L500.33 853.69 L499.32 854.75 L498.21 855.81 L496.78 856.87 L495.2 857.93 L493.67 858.99 L492.19 860.06 L490.68 861.12 L489.27 862.18 L488.08 863.24 L486.99 864.3 L486.03 865.36 L485.37 866.42 L484.94 867.48 L484.61 868.55 L484.5 869.61 L484.6 870.67 L484.81 871.73 L485.09 872.79 L485.64 873.85 L486.44 874.91 L487.39 875.98 L488.54 877.04 L489.98 878.1 L491.71 879.16 L493.7 880.22 L496.29 881.28 L499.41 882.34 L502.7 883.41 L505.89 884.47 L509.12 885.53 L512.43 886.59 L515.82 887.65 L519.28 888.71 L522.82 889.77 L526.43 890.84 L530.16 891.9 L534.01 892.96 L537.82 894.02 L541.57 895.08 L545.41 896.14 L548.75 897.2 L551.19 898.27 L552.41 899.33 L551.95 900.39 L550.04 901.45 L546.85 902.51 L542.82 903.57 L538.64 904.63 L534.1 905.69 L529.63 906.76 L525.48 907.82 L521.49 908.88 L518.01 909.94 L515.07 911 L512.45 912.06 L510.2 913.12 L508.28 914.19 L506.53 915.25 L505.12 916.31 L504.25 917.37 L503.62 918.43 L503.2 919.49 L503.01 920.55 L502.92 921.62 L502.81 922.68 L502.67 923.74 L502.5 924.8 L464.83 924.8 L464.67 923.74 L464.52 922.68 L464.42 921.62 L464.32 920.55 L464.14 919.49 L463.71 918.43 L463.09 917.37 L462.21 916.31 L460.8 915.25 L459.05 914.19 L457.14 913.12 L454.89 912.06 L452.26 911 L449.33 909.94 L445.84 908.88 L441.85 907.82 L437.71 906.76 L433.23 905.69 L428.69 904.63 L424.51 903.57 L420.48 902.51 L417.3 901.45 L415.38 900.39 L414.92 899.33 L416.14 898.27 L418.59 897.2 L421.93 896.14 L425.77 895.08 L429.51 894.02 L433.33 892.96 L437.17 891.9 L440.9 890.84 L444.51 889.77 L448.05 888.71 L451.51 887.65 L454.9 886.59 L458.22 885.53 L461.44 884.47 L464.63 883.41 L467.93 882.34 L471.04 881.28 L473.64 880.22 L475.62 879.16 L477.35 878.1 L478.8 877.04 L479.94 875.98 L480.89 874.91 L481.69 873.85 L482.24 872.79 L482.53 871.73 L482.74 870.67 L482.83 869.61 L482.72 868.55 L482.39 867.48 L481.97 866.42 L481.3 865.36 L480.34 864.3 L479.25 863.24 L478.06 862.18 L476.65 861.12 L475.14 860.06 L473.66 858.99 L472.14 857.93 L470.56 856.87 L469.12 855.81 L468.01 854.75 L467.01 853.69 L466.23 852.63 L466.03 851.56 L466.79 850.5 L468.17 849.44 L469.66 848.38 L471.41 847.32 L473.45 846.26 L475.42 845.2 L477.19 844.13 L478.89 843.07 L480.32 842.01 L481.55 840.95 L482.49 839.89 L482.85 838.83 L483.08 837.77 L483.22 836.7 L483.25 835.64 L483.25 834.58 L483.25 833.52 L483.25 832.46 L483.25 831.4 L483.25 830.34 L483.25 829.27 L483.25 828.21 L483.25 827.15 L483.25 826.09 L483.25 825.03 L483.25 823.97 L483.25 822.91 L483.25 821.85 L483.25 820.78 L483.25 819.72 L483.25 818.66 L483.25 817.6 L483.25 816.54 L483.25 815.48 L483.25 814.42 L483.25 813.35 L483.25 812.29 L483.25 811.23 L483.25 810.17 L483.25 809.11 L483.25 808.05 L483.25 806.99 L483.25 805.92 L483.25 804.86 L483.25 803.8 L483.25 802.74 L483.25 801.68 L483.25 800.62 L483.25 799.56 L483.25 798.49 L483.25 797.43 L483.25 796.37 L483.25 795.31 L483.25 794.25 L483.25 793.19 L483.25 792.13 L483.25 791.06 L483.25 790 L483.25 788.94 L483.25 787.88 L483.25 786.82 L483.25 785.76 L483.25 784.7 L483.25 783.64 L483.25 782.57 L483.25 781.51 L483.25 780.45 L483.25 779.39 L483.25 778.33 L483.25 777.27 L483.25 776.21 L483.25 775.14 L483.25 774.08 L483.25 773.02 L483.25 771.96 L483.25 770.9 L483.25 769.84 L483.25 768.78 L483.25 767.71 L483.25 766.65 L483.25 765.59 L483.25 764.53 L483.25 763.47 L483.25 762.41 L483.25 761.35 L483.25 760.28 L483.25 759.22 L483.25 758.16 L483.25 757.1 L483.25 756.04 L483.25 754.98 L483.25 753.92 L483.25 752.85 L483.25 751.79 L483.25 750.73 L483.25 749.67 L483.25 748.61 L483.25 747.55 L483.25 746.49 L483.25 745.43 L483.25 744.36 L483.25 743.3 L483.25 742.24 L483.25 741.18 L483.25 740.12 L483.25 739.06 L483.25 738 L483.25 736.93 L483.25 735.87 L483.25 734.81 L483.25 733.75 L483.25 732.69 L483.25 731.63 L483.25 730.57 L483.25 729.5 L483.25 728.44 L483.25 727.38 L483.25 726.32 L483.25 725.26 L483.25 724.2 L483.25 723.14 L483.25 722.07 L483.25 721.01 L483.25 719.95 L483.25 718.89 L483.25 717.83 L483.25 716.77 L483.25 715.71 L483.25 714.64 L483.25 713.58 L483.25 712.52 L483.25 711.46 L483.25 710.4 L483.25 709.34 L483.25 708.28 L483.25 707.22 L483.25 706.15 L483.25 705.09 L483.25 704.03 L483.25 702.97 L483.25 701.91 L483.25 700.85 L483.25 699.79 L483.25 698.72 L483.25 697.66 L483.25 696.6 L483.25 695.54 L483.25 694.48 L483.25 693.42 L483.25 692.36 L483.25 691.29 L483.25 690.23 L483.25 689.17 L483.25 688.11 L483.25 687.05 L483.25 685.99 L483.25 684.93 L483.25 683.86 L483.25 682.8 L483.25 681.74 L483.25 680.68 L483.25 679.62 L483.25 678.56 L483.25 677.5 L483.25 676.43 L483.25 675.37 L483.25 674.31 L483.25 673.25 L483.25 672.19 L483.25 671.13 L483.25 670.07 L483.22 669.01 L483.13 667.94 L482.99 666.88 L482.69 665.82 L482.23 664.76 L481.43 663.7 L480.42 662.64 L479.14 661.58 L477.82 660.51 L476.46 659.45 L475.09 658.39 L473.82 657.33 L472.64 656.27 L471.49 655.21 L470.33 654.15 L469.11 653.08 L468.02 652.02 L467.15 650.96 L467.42 649.9 Z" fill="#00bfc4" stroke="#4daf4a" stroke-width="1.45" stroke-linejoin="round"/>
<g fill="#4daf4a" fill-opacity="0.93" stroke="#4daf4a" stroke-opacity="0.9" stroke-width="1.15"><circle cx="513.33" cy="650.1" r="3.45"/><circle cx="504.75" cy="852.1" r="3.45"/><circle cx="504.08" cy="889.8" r="3.45"/><circle cx="478.08" cy="898.2" r="3.45"/><circle cx="492.42" cy="902.8" r="3.45"/><circle cx="512.67" cy="897.4" r="3.45"/><circle cx="508.42" cy="899.6" r="3.45"/><circle cx="513.67" cy="912" r="3.45"/></g>
<rect x="596.33" y="818.6" width="75.92" height="74.7" fill="#c77cff" stroke="#984ea3" stroke-width="1.8"/>
<line x1="596.33" x2="672.25" y1="837.4" y2="837.4" stroke="#984ea3" stroke-width="3.5"/>
<g fill="#984ea3" fill-opacity="0.93" stroke="#984ea3" stroke-opacity="0.9" stroke-width="1.15"><circle cx="652.33" cy="815.4" r="3.45"/><circle cx="652.83" cy="823.3" r="3.45"/></g>
<path d="M637.08 730.4 L637.09 732.12 L637.11 733.85 L637.14 735.57 L637.17 737.29 L637.22 739.02 L637.27 740.74 L637.33 742.46 L637.39 744.19 L637.46 745.91 L637.55 747.64 L637.68 749.36 L637.83 751.08 L638 752.81 L638.19 754.53 L638.38 756.25 L638.58 757.98 L638.79 759.7 L639.03 761.42 L639.3 763.15 L639.58 764.87 L639.87 766.59 L640.18 768.32 L640.49 770.04 L640.81 771.76 L641.14 773.49 L641.49 775.21 L641.86 776.94 L642.23 778.66 L642.61 780.38 L643 782.11 L643.38 783.83 L643.77 785.55 L644.17 787.28 L644.57 789 L644.98 790.72 L645.39 792.45 L645.78 794.17 L646.14 795.89 L646.5 797.62 L646.86 799.34 L647.21 801.06 L647.54 802.79 L647.86 804.51 L648.15 806.24 L648.41 807.96 L648.66 809.68 L648.92 811.41 L649.17 813.13 L649.4 814.85 L649.58 816.58 L649.71 818.3 L649.75 820.02 L649.73 821.75 L649.67 823.47 L649.58 825.19 L649.47 826.92 L649.34 828.64 L649.21 830.36 L649.08 832.09 L648.91 833.81 L648.7 835.54 L648.46 837.26 L648.21 838.98 L647.97 840.71 L647.75 842.43 L647.57 844.15 L647.41 845.88 L647.24 847.6 L647.08 849.32 L646.93 851.05 L646.81 852.77 L646.72 854.49 L646.67 856.22 L646.67 857.94 L646.68 859.66 L646.71 861.39 L646.75 863.11 L646.79 864.84 L646.84 866.56 L646.89 868.28 L646.95 870.01 L647.04 871.73 L647.15 873.45 L647.28 875.18 L647.42 876.9 L647.56 878.62 L647.7 880.35 L647.84 882.07 L648.01 883.79 L648.2 885.52 L648.39 887.24 L648.56 888.96 L648.68 890.69 L648.75 892.41 L648.75 894.14 L648.75 895.86 L648.75 897.58 L648.75 899.31 L648.67 901.03 L648.27 902.75 L647.72 904.48 L647.2 906.2 L646.72 907.92 L646.21 909.65 L645.69 911.37 L645.17 913.09 L644.65 914.82 L644.15 916.54 L643.68 918.26 L643.21 919.99 L642.75 921.71 L642.3 923.44 L641.86 925.16 L641.44 926.88 L641.05 928.61 L640.68 930.33 L640.35 932.05 L640.04 933.78 L639.75 935.5 L628.42 935.5 L628.13 933.78 L627.82 932.05 L627.48 930.33 L627.12 928.61 L626.72 926.88 L626.3 925.16 L625.87 923.44 L625.41 921.71 L624.95 919.99 L624.49 918.26 L624.01 916.54 L623.51 914.82 L622.99 913.09 L622.47 911.37 L621.95 909.65 L621.45 907.92 L620.97 906.2 L620.45 904.48 L619.89 902.75 L619.49 901.03 L619.42 899.31 L619.42 897.58 L619.42 895.86 L619.42 894.14 L619.42 892.41 L619.49 890.69 L619.61 888.96 L619.78 887.24 L619.97 885.52 L620.15 883.79 L620.33 882.07 L620.47 880.35 L620.61 878.62 L620.75 876.9 L620.89 875.18 L621.01 873.45 L621.12 871.73 L621.21 870.01 L621.27 868.28 L621.33 866.56 L621.38 864.84 L621.42 863.11 L621.46 861.39 L621.48 859.66 L621.5 857.94 L621.49 856.22 L621.45 854.49 L621.36 852.77 L621.23 851.05 L621.09 849.32 L620.93 847.6 L620.76 845.88 L620.6 844.15 L620.42 842.43 L620.2 840.71 L619.96 838.98 L619.71 837.26 L619.47 835.54 L619.26 833.81 L619.09 832.09 L618.96 830.36 L618.82 828.64 L618.7 826.92 L618.59 825.19 L618.5 823.47 L618.44 821.75 L618.42 820.02 L618.46 818.3 L618.58 816.58 L618.77 814.85 L618.99 813.13 L619.24 811.41 L619.51 809.68 L619.76 807.96 L620.02 806.24 L620.31 804.51 L620.62 802.79 L620.96 801.06 L621.31 799.34 L621.66 797.62 L622.02 795.89 L622.39 794.17 L622.78 792.45 L623.18 790.72 L623.59 789 L624 787.28 L624.4 785.55 L624.79 783.83 L625.17 782.11 L625.55 780.38 L625.93 778.66 L626.31 776.94 L626.67 775.21 L627.02 773.49 L627.36 771.76 L627.67 770.04 L627.99 768.32 L628.29 766.59 L628.59 764.87 L628.87 763.15 L629.13 761.42 L629.37 759.7 L629.59 757.98 L629.78 756.25 L629.98 754.53 L630.16 752.81 L630.33 751.08 L630.49 749.36 L630.61 747.64 L630.71 745.91 L630.78 744.19 L630.84 742.46 L630.9 740.74 L630.95 739.02 L630.99 737.29 L631.03 735.57 L631.06 733.85 L631.08 732.12 L631.08 730.4 Z" fill="#c77cff" stroke="#984ea3" stroke-width="1.45" stroke-linejoin="round"/>
<g fill="#984ea3" fill-opacity="0.93" stroke="#984ea3" stroke-opacity="0.9" stroke-width="1.15"><circle cx="628.25" cy="730.3" r="3.45"/><circle cx="617.42" cy="782.7" r="3.45"/><circle cx="609.92" cy="795.9" r="3.45"/><circle cx="617.42" cy="811.3" r="3.45"/><circle cx="635.08" cy="812.9" r="3.45"/><circle cx="609.58" cy="822.4" r="3.45"/><circle cx="626.17" cy="826" r="3.45"/><circle cx="604.25" cy="833.4" r="3.45"/><circle cx="612.92" cy="833.7" r="3.45"/><circle cx="606.17" cy="837.4" r="3.45"/><circle cx="645.33" cy="852" r="3.45"/><circle cx="645.67" cy="867.1" r="3.45"/><circle cx="637.42" cy="891.7" r="3.45"/><circle cx="659.5" cy="893.6" r="3.45"/><circle cx="663.67" cy="892.1" r="3.45"/><circle cx="620.17" cy="898.9" r="3.45"/><circle cx="645.67" cy="896.7" r="3.45"/><circle cx="636.25" cy="904.4" r="3.45"/><circle cx="646.17" cy="904.8" r="3.45"/><circle cx="650.33" cy="935.2" r="3.45"/></g>
</g>
</g>
</svg></body></html>
